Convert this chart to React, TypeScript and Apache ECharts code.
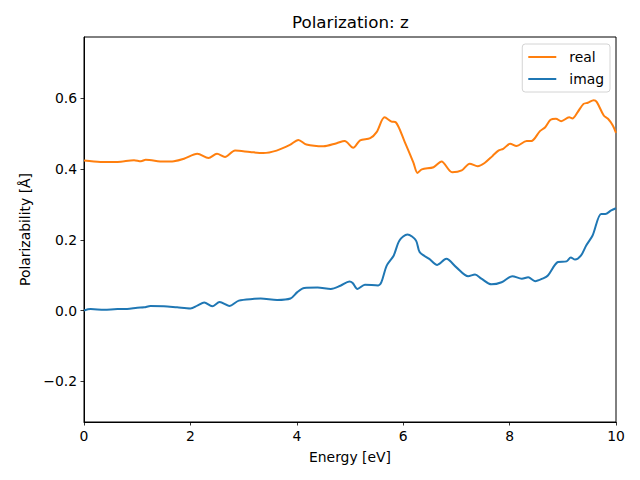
import React, { useEffect, useRef } from "react";
import * as echarts from "echarts";

const title = "Polarization: z";
const xName = "Energy [eV]";
const yName = "Polarizability [Å]";
const seriesNames = ["real", "imag"];
const xTicks = [0, 2, 4, 6, 8, 10];
const yTicks = [-0.2, 0, 0.2, 0.4, 0.6];

const realE = [0, 0.31, 0.63, 0.94, 1.07, 1.16, 1.5, 1.69, 1.88, 2.13, 2.34, 2.5, 2.65, 2.84, 3.12, 3.37, 3.62, 3.87, 4.03, 4.18, 4.5, 4.75, 4.9, 5.06, 5.19, 5.38, 5.5, 5.65, 5.78, 5.86, 6.03, 6.19, 6.27, 6.35, 6.57, 6.72, 6.92, 7.1, 7.25, 7.4, 7.53, 7.68, 7.79, 7.88, 8.01, 8.13, 8.32, 8.41, 8.57, 8.67, 8.77, 8.87, 8.97, 9.12, 9.18, 9.28, 9.39, 9.47, 9.58, 9.64, 9.77, 9.85, 9.94, 10.0];
const realV = [0.424, 0.42, 0.42, 0.425, 0.422, 0.426, 0.421, 0.422, 0.429, 0.443, 0.431, 0.443, 0.434, 0.452, 0.448, 0.445, 0.452, 0.468, 0.482, 0.469, 0.464, 0.473, 0.479, 0.46, 0.481, 0.487, 0.504, 0.546, 0.534, 0.532, 0.476, 0.419, 0.389, 0.399, 0.405, 0.421, 0.391, 0.396, 0.415, 0.408, 0.417, 0.437, 0.452, 0.457, 0.471, 0.465, 0.479, 0.479, 0.507, 0.518, 0.539, 0.542, 0.535, 0.546, 0.543, 0.561, 0.584, 0.587, 0.594, 0.589, 0.551, 0.542, 0.523, 0.502];

const imagE = [0, 0.125, 0.38, 0.63, 0.81, 1.0, 1.13, 1.25, 1.5, 1.75, 2.0, 2.13, 2.26, 2.41, 2.55, 2.73, 2.91, 3.2, 3.32, 3.63, 3.88, 4.01, 4.14, 4.39, 4.64, 4.82, 4.99, 5.05, 5.14, 5.28, 5.53, 5.59, 5.69, 5.82, 5.93, 6.08, 6.24, 6.31, 6.49, 6.64, 6.81, 7.0, 7.22, 7.35, 7.47, 7.66, 7.85, 8.05, 8.23, 8.35, 8.48, 8.63, 8.72, 8.91, 9.07, 9.15, 9.23, 9.34, 9.44, 9.56, 9.72, 9.8, 9.91, 10.0];
const imagV = [0.0, 0.004, 0.002, 0.004, 0.004, 0.008, 0.009, 0.013, 0.012, 0.009, 0.006, 0.014, 0.023, 0.012, 0.024, 0.013, 0.028, 0.033, 0.034, 0.03, 0.034, 0.052, 0.064, 0.065, 0.061, 0.07, 0.082, 0.078, 0.061, 0.073, 0.071, 0.08, 0.127, 0.155, 0.198, 0.215, 0.198, 0.165, 0.146, 0.129, 0.146, 0.122, 0.097, 0.102, 0.09, 0.074, 0.08, 0.097, 0.09, 0.094, 0.083, 0.091, 0.099, 0.137, 0.139, 0.15, 0.144, 0.155, 0.184, 0.212, 0.273, 0.273, 0.283, 0.289];

const FONT = "DejaVu Sans";

export default function App() {
  const ref = useRef<HTMLDivElement>(null);
  useEffect(() => {
    if (!ref.current) return;
    const chart = echarts.init(ref.current, null, { renderer: "svg" });
    const fmt = (v: number) => {
      const s = (Math.abs(v) < 1e-9 ? 0 : v).toFixed(1);
      return s.replace("-", "\u2212");
    };
    chart.setOption({
      animation: false,
      backgroundColor: "#fff",
      textStyle: { fontFamily: FONT },
      title: {
        text: title,
        left: 292,
        top: 13,
        padding: 0,
        textStyle: { fontFamily: FONT, fontSize: 16.7, fontWeight: "normal", color: "#000" },
      },
      legend: {
        orient: "vertical",
        right: 30,
        top: 44,
        icon: "rect",
        itemWidth: 28,
        itemHeight: 2,
        itemGap: 8,
        padding: [6, 6, 6, 6],
        backgroundColor: "rgba(255,255,255,0.8)",
        borderColor: "#d4d4d4",
        borderWidth: 1,
        borderRadius: 3,
        textStyle: { fontFamily: FONT, fontSize: 13.9, color: "#000", padding: [0, 0, 0, 8] },
        data: seriesNames,
      },
      grid: {
        left: 84,
        right: 24,
        top: 37,
        bottom: 58,
        show: true,
        borderColor: "#000",
        borderWidth: 1,
        backgroundColor: "transparent",
      },
      xAxis: {
        type: "value",
        min: 0,
        max: 10,
        interval: 2,
        name: xName,
        nameLocation: "middle",
        nameGap: 28,
        nameTextStyle: { fontFamily: FONT, fontSize: 13.9, color: "#000" },
        axisLine: { show: true, onZero: false, lineStyle: { color: "#000", width: 1 } },
        axisTick: { show: true, inside: false, length: 3.5, lineStyle: { color: "#000", width: 0.8 }, customValues: xTicks },
        axisLabel: { margin: 7, fontFamily: FONT, fontSize: 13.9, color: "#000", customValues: xTicks, formatter: (v: number) => String(v) },
        splitLine: { show: false },
      },
      yAxis: {
        type: "value",
        min: -0.315,
        max: 0.773,
        name: yName,
        nameLocation: "middle",
        nameGap: 52,
        nameTextStyle: { fontFamily: FONT, fontSize: 13.9, color: "#000" },
        axisLine: { show: true, onZero: false, lineStyle: { color: "#000", width: 1 } },
        axisTick: { show: true, inside: false, length: 3.5, lineStyle: { color: "#000", width: 0.8 }, customValues: yTicks },
        axisLabel: { margin: 7, fontFamily: FONT, fontSize: 13.9, color: "#000", customValues: yTicks, formatter: fmt },
        splitLine: { show: false },
      },
      series: [
        {
          name: seriesNames[0],
          type: "line",
          data: realE.map((e, i) => [e, realV[i]]),
          showSymbol: false,
          symbol: "none",
          smooth: 0.3,
          color: "#ff7f0e",
          lineStyle: { width: 2, color: "#ff7f0e" },
        },
        {
          name: seriesNames[1],
          type: "line",
          data: imagE.map((e, i) => [e, imagV[i]]),
          showSymbol: false,
          symbol: "none",
          smooth: 0.3,
          color: "#1f77b4",
          lineStyle: { width: 2, color: "#1f77b4" },
        },
      ],
    });
    return () => chart.dispose();
  }, []);
  return <div ref={ref} style={{ position: "absolute", left: 0, top: 0, width: 640, height: 480 }} />;
}
